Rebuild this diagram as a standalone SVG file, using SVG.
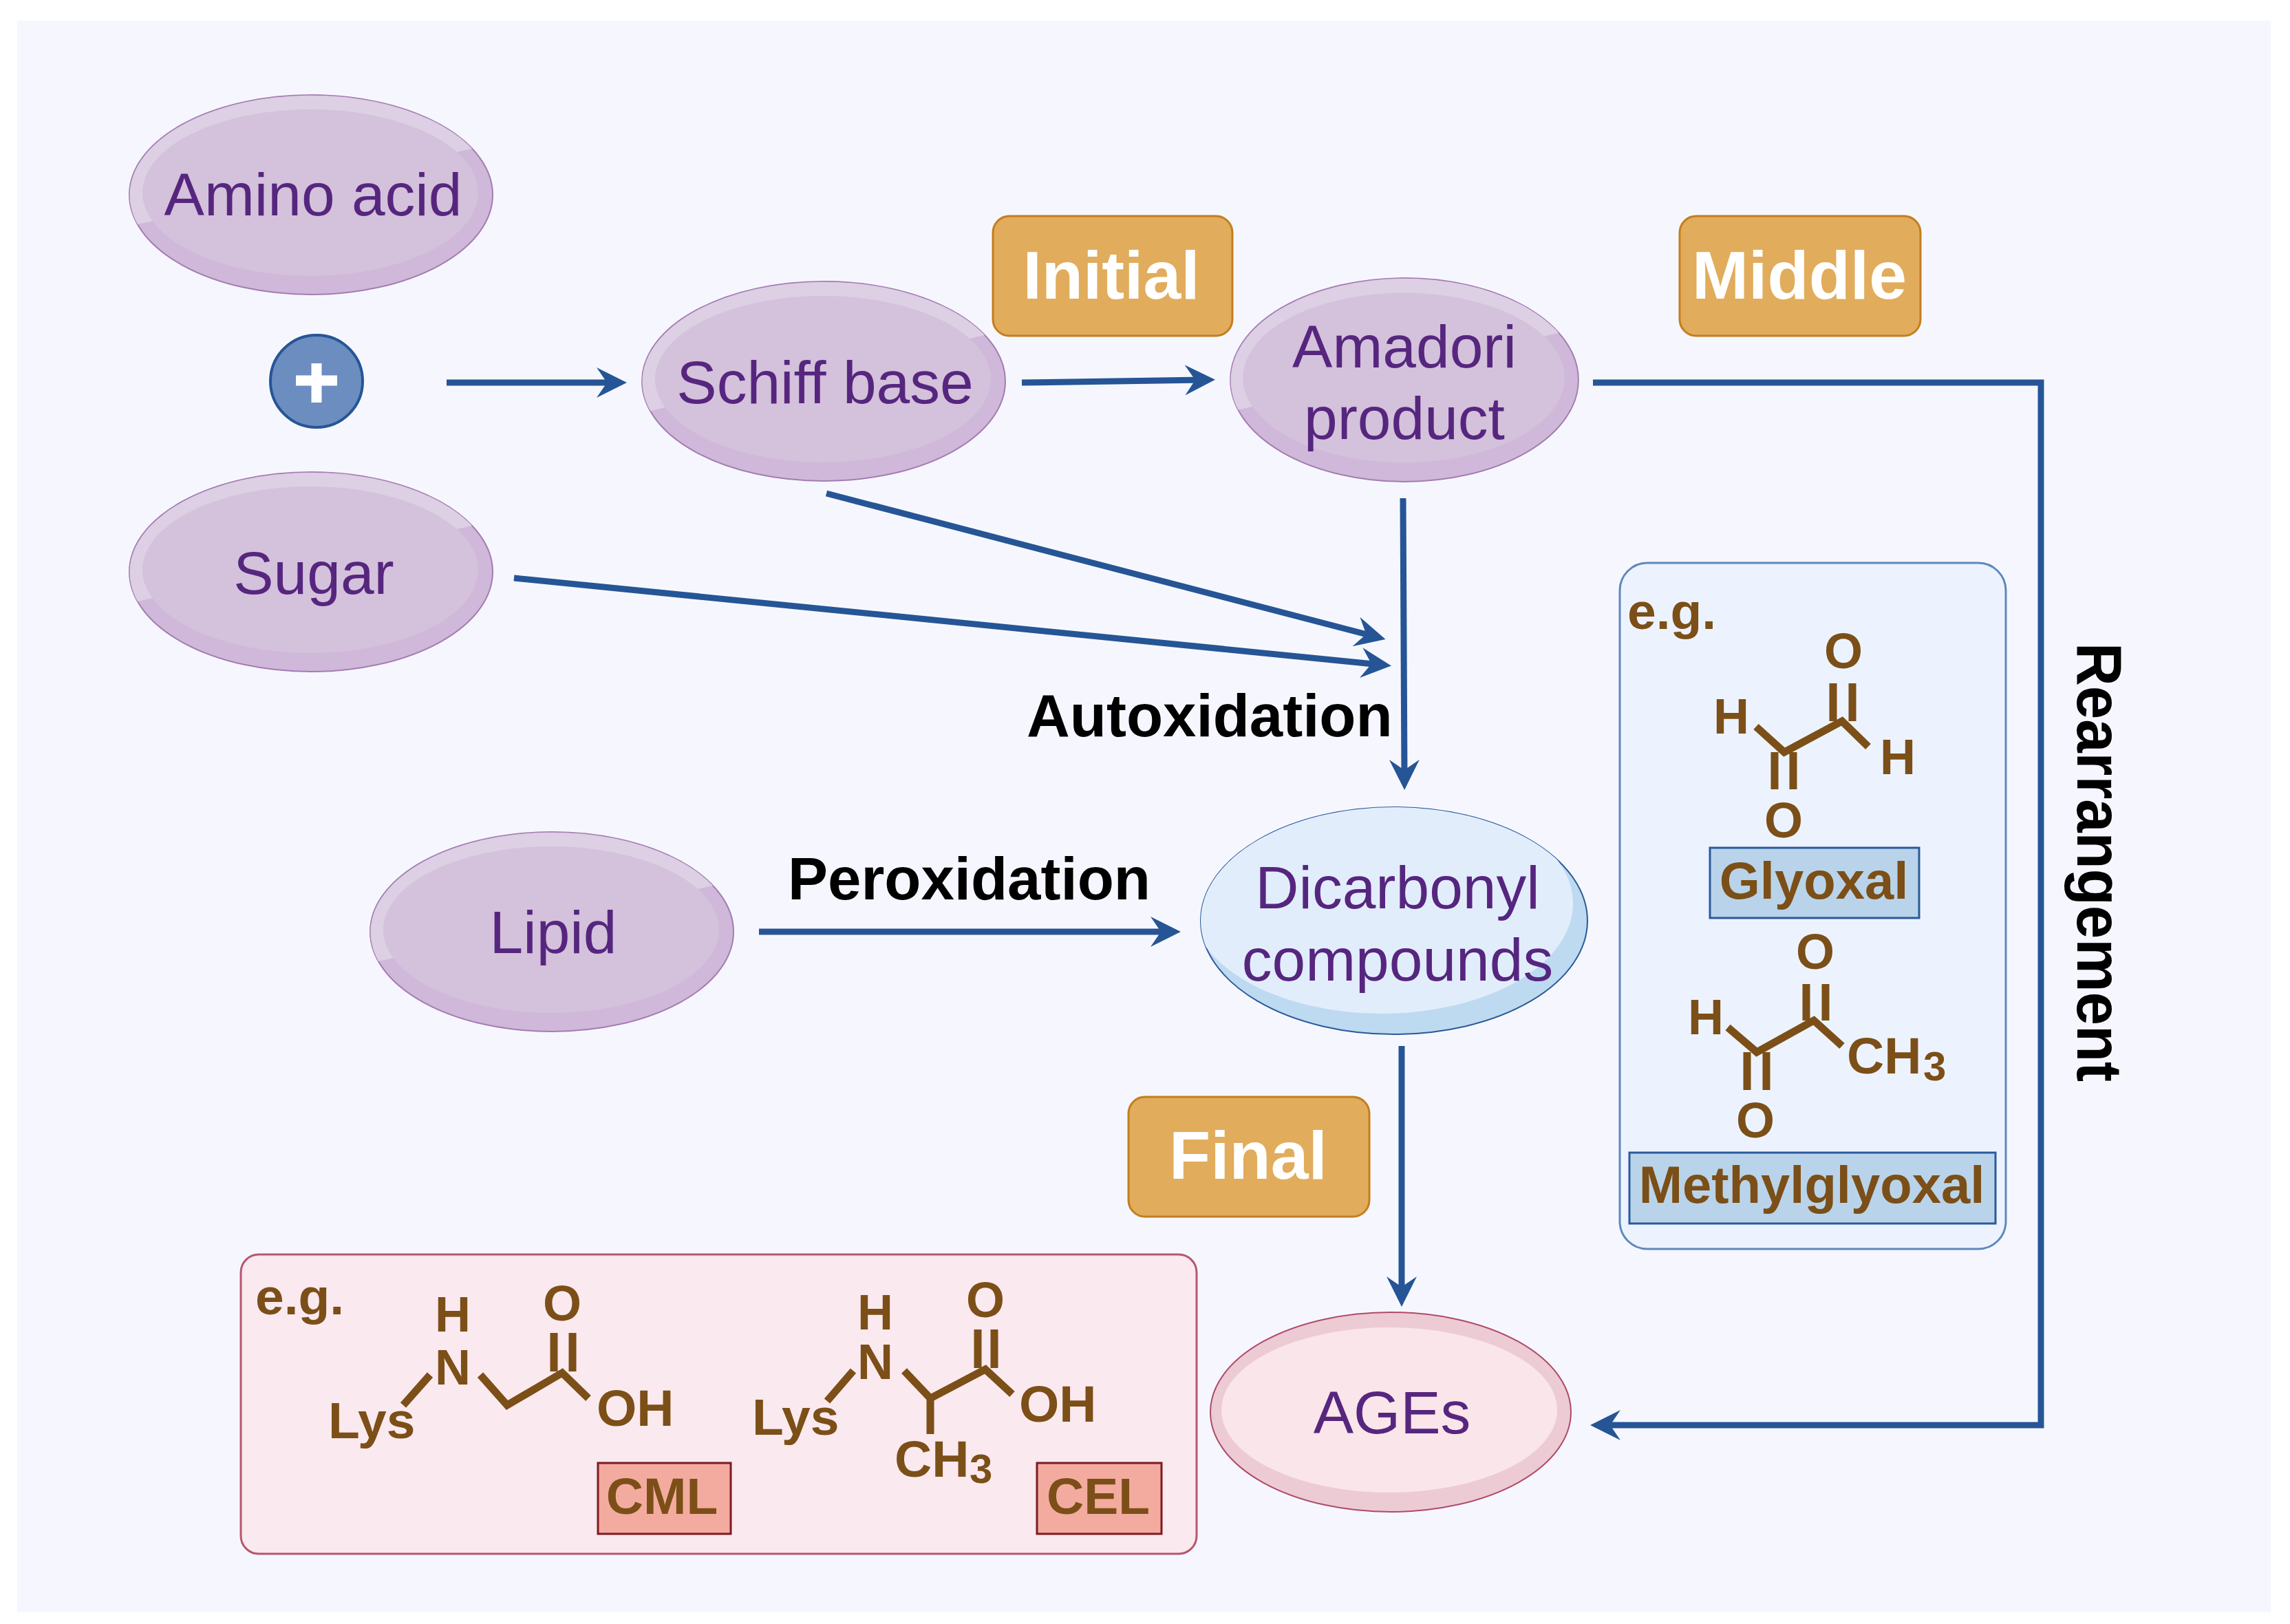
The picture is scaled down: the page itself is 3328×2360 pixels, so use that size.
<svg xmlns="http://www.w3.org/2000/svg" width="3328" height="2360" viewBox="0 0 3328 2360">
<style>
text{font-family:"Liberation Sans",Arial,sans-serif}
.n{font-size:87.5px;fill:#56267f;text-anchor:middle}
.tag{fill:#e1ac5b;stroke:#c47e1e;stroke-width:3}
.tt{font-size:98.5px;font-weight:700;fill:#fff;text-anchor:middle}
.b{font-size:87px;font-weight:700;fill:#000}
.c{font-size:72px;font-weight:700;fill:#7b4f17}
.w{font-size:75px}
.m{text-anchor:middle}
.sub{font-size:60px;font-weight:700;fill:#7b4f17}
.bond{fill:none;stroke:#7b4f17;stroke-width:11}
.arrow{fill:none;stroke:#265596;stroke-width:9;marker-end:url(#head)}
.bl{fill:#b9d4ea;stroke:#2a5a9a;stroke-width:3}
.rd{fill:#f3ab9f;stroke:#7d1a22;stroke-width:3}
</style>
<defs>
<marker id="head" markerUnits="userSpaceOnUse" markerWidth="50" markerHeight="50" viewBox="0 -25 50 50" refX="28" refY="0" orient="auto">
<path d="M0,-22 L44,0 L0,22 L15,0 Z" fill="#265596"/>
</marker>
<g id="pill">
<ellipse rx="264" ry="145" fill="#cfb8d9" stroke="#a47cb2" stroke-width="2"/>
<path d="M-252,43 A264,145 0 0 1 234,-67 Z" fill="#ddcfe4"/>
<ellipse cx="-1" cy="-3" rx="244" ry="121" fill="#d4c1db"/>
</g>
<clipPath id="dc"><ellipse cx="2026" cy="1338" rx="281" ry="165"/></clipPath>
</defs>
<rect width="3328" height="2360" fill="#fff"/>
<rect x="25" y="30" width="3275" height="2313" fill="#f6f7fe"/>

<g id="connectors">
<path class="arrow" d="M649,556H895"/>
<path class="arrow" d="M1485,556L1750,552"/>
<path class="arrow" d="M2315,556H2966V2071H2327"/>
<path class="arrow" d="M2039,724L2041,1132"/>
<path class="arrow" d="M1201,717L1998,925"/>
<path class="arrow" d="M747,840L2006,966"/>
<path class="arrow" d="M1103,1354H1700"/>
<path class="arrow" d="M2037,1520V1883"/>
</g>

<g id="amino-acid"><use href="#pill" x="452" y="283"/><text class="n" x="455" y="313">Amino acid</text></g>
<g id="plus"><ellipse cx="460" cy="554" rx="67" ry="67" fill="#6b8dbf" stroke="#265596" stroke-width="4"/><path d="M430,553H490M460,528V585" stroke="#fff" stroke-width="15" fill="none"/></g>
<g id="sugar"><use href="#pill" x="452" y="831"/><text class="n" x="456" y="863">Sugar</text></g>
<g id="schiff-base"><use href="#pill" x="1197" y="554"/><text class="n" x="1199" y="586">Schiff base</text></g>
<g id="amadori"><use href="#pill" transform="translate(2041 552) scale(.958 1.02)"/><text class="n" x="2041" y="534">Amadori</text><text class="n" x="2041" y="638">product</text></g>
<g id="lipid"><use href="#pill" x="802" y="1354"/><text class="n" x="804" y="1385">Lipid</text></g>
<g id="dicarbonyl">
<ellipse cx="2026" cy="1338" rx="281" ry="165" fill="#bddaf0" stroke="#2a5a9a" stroke-width="2"/>
<ellipse cx="2008" cy="1313" rx="278" ry="160" fill="#e2edfc" clip-path="url(#dc)"/>
<text class="n" x="2031" y="1320">Dicarbonyl</text><text class="n" x="2031" y="1425">compounds</text></g>
<g id="ages">
<ellipse cx="2021" cy="2052" rx="262" ry="145" fill="#eccbd4" stroke="#b04a6a" stroke-width="2"/>
<ellipse cx="2019" cy="2049" rx="244" ry="120" fill="#fae5ea"/>
<text class="n" x="2023" y="2083">AGEs</text></g>

<g id="stage-initial"><rect class="tag" x="1443" y="314" width="348" height="174" rx="24"/><text class="tt" x="1615" y="434">Initial</text></g>
<g id="stage-middle"><rect class="tag" x="2441" y="314" width="350" height="174" rx="24"/><text class="tt" x="2615" y="434">Middle</text></g>
<g id="stage-final"><rect class="tag" x="1640" y="1594" width="350" height="174" rx="24"/><text class="tt" x="1814" y="1713">Final</text></g>

<text class="b" x="1492" y="1070">Autoxidation</text>
<text class="b" x="1145" y="1307">Peroxidation</text>
<text class="b" style="font-size:92px" textLength="638" lengthAdjust="spacingAndGlyphs" transform="translate(3019 934) rotate(90)">Rearrangement</text>

<g id="dicarbonyl-examples">
<rect x="2354" y="818" width="561" height="997" rx="40" fill="#ecf3fe" stroke="#5f88bd" stroke-width="3"/>
<text class="c w" x="2365" y="914">e.g.</text>
<text class="c m" x="2679" y="971">O</text>
<text class="c" x="2490" y="1066">H</text>
<path class="bond" d="M2552,1056L2593,1093L2677,1048L2715,1085M2664,993V1048M2692,993V1048M2579,1093V1147M2606,1093V1147"/>
<text class="c" x="2732" y="1125">H</text>
<text class="c m" x="2592" y="1217">O</text>
<rect class="bl" x="2485" y="1232" width="304" height="102"/>
<text class="c m" x="2636" y="1306" style="font-size:76px">Glyoxal</text>
<text class="c m" x="2638" y="1408">O</text>
<text class="c" x="2453" y="1503">H</text>
<path class="bond" d="M2511,1493L2553,1529L2636,1483L2677,1520M2625,1430V1483M2653,1430V1483M2539,1529V1584M2567,1529V1584"/>
<text class="c w" x="2684" y="1560">CH</text><text class="sub" x="2795" y="1570">3</text>
<text class="c m" x="2551" y="1653">O</text>
<rect class="bl" x="2368" y="1675" width="532" height="103"/>
<text class="c m" x="2633" y="1748" style="font-size:76px">Methylglyoxal</text>
</g>

<g id="age-examples">
<rect x="350" y="1823" width="1389" height="435" rx="26" fill="#fae9ef" stroke="#b7566f" stroke-width="3"/>
<text class="c w" x="371" y="1910">e.g.</text>
<text class="c m" x="658" y="1935">H</text>
<text class="c m" x="658" y="2012">N</text>
<text class="c m" x="817" y="1919">O</text>
<path class="bond" d="M586,2042L625,1998M698,1998L737,2042L817,1995L855,2032M805,1937V1993M832,1937V1993"/>
<text class="c w" x="477" y="2090">Lys</text>
<text class="c w" x="867" y="2072">OH</text>
<rect class="rd" x="869" y="2126" width="193" height="103"/>
<text class="c m w" x="962" y="2200">CML</text>
<text class="c m" x="1272" y="1932">H</text>
<text class="c m" x="1272" y="2004">N</text>
<text class="c m" x="1432" y="1914">O</text>
<path class="bond" d="M1202,2036L1240,1992M1314,1992L1352,2032L1432,1990L1471,2026M1352,2032V2084M1421,1932V1988M1445,1932V1988"/>
<text class="c w" x="1093" y="2085">Lys</text>
<text class="c w" x="1481" y="2066">OH</text>
<text class="c w" x="1300" y="2146">CH</text><text class="sub" x="1409" y="2155">3</text>
<rect class="rd" x="1507" y="2126" width="181" height="103"/>
<text class="c m w" x="1596" y="2200">CEL</text>
</g>
</svg>
